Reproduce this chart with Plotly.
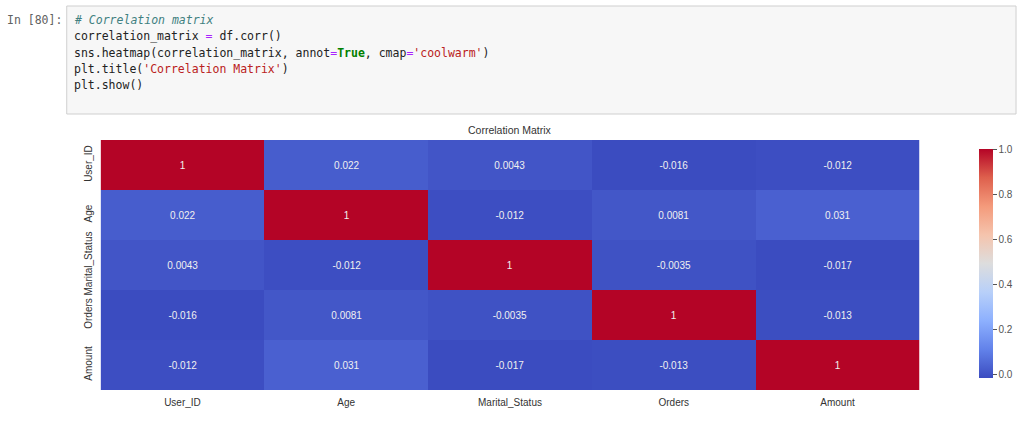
"""recreate the notebook screenshot: code cell plus seaborn-style correlation heatmap"""

import plotly.graph_objects as go

# %% data
labels = ['User_ID', 'Age', 'Marital_Status', 'Orders', 'Amount']
corr_user_id = [1, 0.022, 0.0043, -0.016, -0.012]
corr_age = [0.022, 1, -0.012, 0.0081, 0.031]
corr_marital = [0.0043, -0.012, 1, -0.0035, -0.017]
corr_orders = [-0.016, 0.0081, -0.0035, 1, -0.013]
corr_amount = [-0.012, 0.031, -0.017, -0.013, 1]
cbar_ticks = [0.0, 0.2, 0.4, 0.6, 0.8, 1.0]

corr = [corr_user_id, corr_age, corr_marital, corr_orders, corr_amount]
annot = [['{:.2g}'.format(v) for v in row] for row in corr]

# matplotlib coolwarm sampled
coolwarm = [
    [0.0, '#3b4cc0'], [0.125, '#6282ea'], [0.25, '#8db0fe'],
    [0.375, '#b8d0f9'], [0.5, '#dddddd'], [0.625, '#f5c4ad'],
    [0.75, '#f49a7b'], [0.875, '#de604d'], [1.0, '#b40426'],
]

W, H = 1024, 432
def px(x): return x / W
def py(y): return 1 - y / H

sans = 'Liberation Sans, Arial'
fig = go.Figure()
fig.add_trace(go.Heatmap(
    z=corr, x=labels, y=labels, text=annot, texttemplate='%{text}',
    textfont=dict(color='#f0f0f0', size=10, family=sans),
    colorscale=coolwarm, zmin=min(min(r) for r in corr), zmax=1,
    xgap=0, ygap=0, hoverinfo='skip',
    colorbar=dict(
        x=px(973), xanchor='left', y=py(263.5), yanchor='middle',
        thickness=14, thicknessmode='pixels', len=249, lenmode='pixels',
        outlinewidth=0, tickvals=cbar_ticks, tickformat='.1f',
        ticks='outside', ticklen=4, tickcolor='#555555',
        tickfont=dict(size=10, color='#555555', family=sans),
    ),
))

fig.update_xaxes(domain=[px(101), px(923)], showgrid=False, zeroline=False,
                 ticks='', ticklabelstandoff=5,
                 tickfont=dict(size=10, color='#333333', family=sans))
fig.update_yaxes(domain=[py(390), py(140)], autorange='reversed', showgrid=False, zeroline=False,
                 ticks='', tickangle=-90, ticklabelstandoff=6,
                 tickfont=dict(size=10, color='#333333', family=sans))

# code cell box
fig.add_shape(type='rect', xref='paper', yref='paper',
              x0=px(67), x1=px(1020), y0=py(114), y1=py(6),
              fillcolor='#f7f7f7', line=dict(color='#cfcfcf', width=1), layer='below')

mono = 'DejaVu Sans Mono, monospace'
code_lines = [
    "<i><span style='color:#408080'># Correlation matrix</span></i>",
    "correlation_matrix <span style='color:#aa22ff'>=</span> df.corr()",
    "sns.heatmap(correlation_matrix, annot<span style='color:#aa22ff'>=</span>"
    "<b><span style='color:#008000'>True</span></b>, cmap<span style='color:#aa22ff'>=</span>"
    "<span style='color:#ba2121'>'coolwarm'</span>)",
    "plt.title(<span style='color:#ba2121'>'Correlation Matrix'</span>)",
    "plt.show()",
]
for i, line in enumerate(code_lines):
    fig.add_annotation(text=line, xref='paper', yref='paper', x=px(72), y=py(20 + 16.3 * i),
                       xanchor='left', yanchor='middle', showarrow=False,
                       font=dict(family=mono, size=11.5, color='#222222'))
fig.add_annotation(text='In [80]:', xref='paper', yref='paper', x=px(64), y=py(20),
                   xanchor='right', yanchor='middle', showarrow=False,
                   font=dict(family=mono, size=11.5, color='#616161'))

# chart title
fig.add_annotation(text='Correlation Matrix', xref='paper', yref='paper', x=px(512), y=py(130),
                   xanchor='center', yanchor='middle', showarrow=False,
                   font=dict(family=sans, size=10.5, color='#333333'))

fig.update_layout(width=W, height=H, margin=dict(l=0, r=0, t=0, b=0),
                  paper_bgcolor='white', plot_bgcolor='white', showlegend=False)

# page body has a default 8px margin which pushes the figure off the window
fig.write_html("out.html", config={'displayModeBar': False},
               post_script="document.body.style.margin='0';")
